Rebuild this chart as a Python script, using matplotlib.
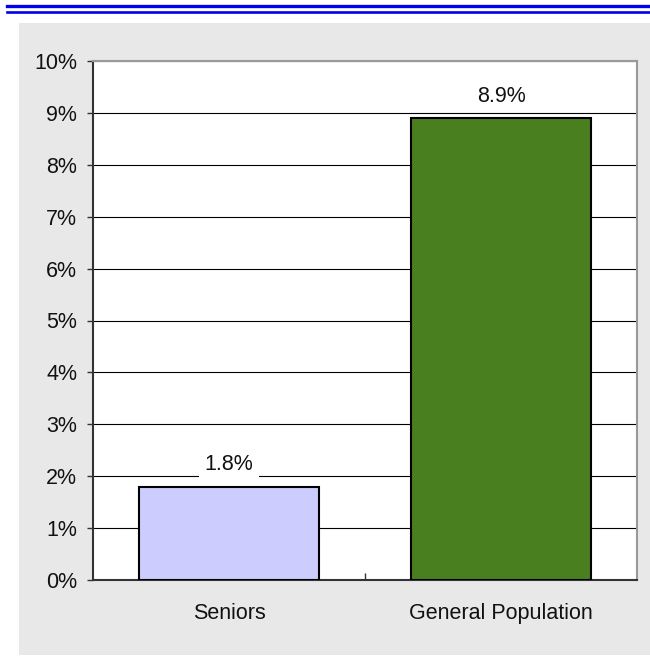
import matplotlib.pyplot as plt
from matplotlib.patches import Rectangle
from matplotlib.lines import Line2D

# Share of each group
categories = ['Seniors', 'General Population']
values = [1.8, 8.9]
bar_colors = ['#ccccff', '#4a7f1f']
y_ticks = [0, 1, 2, 3, 4, 5, 6, 7, 8, 9, 10]

plt.rcParams['font.family'] = ['Liberation Sans', 'DejaVu Sans']
FS = 15.5

fig = plt.figure(figsize=(6.5, 6.59), dpi=100)
fig.patch.set_facecolor('white')

# gray panel behind the chart
fig.patches.append(Rectangle((19 / 650, 4 / 659), 631 / 650, 632 / 659,
                             transform=fig.transFigure, facecolor='#e8e8e8',
                             edgecolor='none', zorder=-10))
# double blue rule at the top
for y, lw in [(653.5 / 659, 2.4), (647.5 / 659, 1.9)]:
    fig.lines.append(Line2D([7 / 650, 1.0], [y, y], transform=fig.transFigure,
                            color='#0000ee', linewidth=lw, zorder=-10))

ax = fig.add_axes([93 / 650, 79 / 659, 544 / 650, 519 / 659])
ax.set_zorder(1)
ax.set_facecolor('white')

x = range(len(categories))
ax.bar(x, values, width=0.665, color=bar_colors, edgecolor='black',
       linewidth=1.5, zorder=3)

for i, v in enumerate(values):
    ax.text(i, v + 0.42, f'{v}%', ha='center', va='center', fontsize=FS,
            color='#111111', zorder=4,
            bbox=dict(facecolor='white', edgecolor='none', pad=4))

ax.set_xlim(-0.5, 1.5)
ax.set_ylim(0, 10)
ax.set_yticks(y_ticks)
ax.set_yticklabels([f'{t}%' for t in y_ticks], fontsize=FS, color='#111111')
ax.yaxis.grid(True, color='black', linewidth=0.8)
ax.set_axisbelow(True)
ax.tick_params(axis='y', length=4.5, width=1, color='#333333', pad=7)

# category labels, with a divider tick between the groups
ax.set_xticks([0.5])
ax.set_xticklabels([''])
ax.tick_params(axis='x', direction='in', length=5, width=1, color='#333333')
for i, c in enumerate(categories):
    ax.text(i, -0.64, c, ha='center', va='center', fontsize=FS,
            color='#111111', transform=ax.transData, clip_on=False)

for side in ['top', 'right']:
    ax.spines[side].set_color('#999999')
    ax.spines[side].set_linewidth(1.5)
for side in ['left', 'bottom']:
    ax.spines[side].set_color('#333333')
    ax.spines[side].set_linewidth(1.5)

fig.savefig('out.png', dpi=100)
